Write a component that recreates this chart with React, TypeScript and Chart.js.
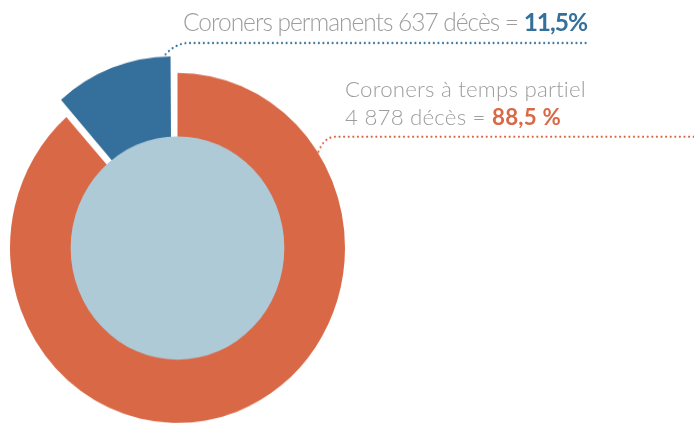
import React, { useEffect, useRef } from "react";
import { Chart, registerables } from "chart.js";

Chart.register(...registerables);

const categories = ["Coroners à temps partiel", "Coroners permanents"];
const deaths = [4878, 637];
const percentLabels = ["88,5 %", "11,5%"];
const colors = ["#d96846", "#34709b"];
const innerColor = "#aecad7";
const greyText = "#9d9d9d";

const SY = 1.045;
const SHIFT = 17; // visual translation of the detached slice

export default function App() {
  const ref = useRef<HTMLCanvasElement | null>(null);

  useEffect(() => {
    document.body.style.margin = "0";
    const canvas = ref.current;
    if (!canvas) return;

    const overlay = {
      id: "overlay",
      beforeDatasetsDraw(chart: any) {
        // keep the detached slice's radius equal to the ring's radius
        const arcs = chart.getDatasetMeta(0).data as any[];
        arcs.forEach((a: any, i: number) => {
          if (i === 1 && !a.$fixed) {
            const circ = a.endAngle - a.startAngle;
            const fix = 1 - Math.sin(Math.min(Math.PI, circ));
            a.outerRadius = a.outerRadius - SHIFT * fix;
            a.$fixed = true;
          }
        });
      },
      afterDatasetsDraw(chart: any) {
        const meta = chart.getDatasetMeta(0);
        const arcs = meta.data as any[];
        const ctx = chart.ctx as CanvasRenderingContext2D;
        const a0 = arcs[0];
        const cx = a0.x;
        const cy = a0.y;
        const R = a0.outerRadius;
        ctx.save();
        ctx.beginPath();
        ctx.arc(cx, cy, R * 0.638, 0, Math.PI * 2);
        ctx.fillStyle = innerColor;
        ctx.fill();
        ctx.restore();

        const dotted = (pts: number[][], ctrl: number[], color: string) => {
          ctx.save();
          ctx.strokeStyle = color;
          ctx.lineWidth = 2.2;
          ctx.lineCap = "round";
          ctx.setLineDash([0, 4.6]);
          ctx.beginPath();
          ctx.moveTo(pts[0][0], pts[0][1]);
          ctx.quadraticCurveTo(ctrl[0], ctrl[1], pts[1][0], pts[1][1]);
          ctx.lineTo(pts[2][0], pts[2][1]);
          ctx.stroke();
          ctx.restore();
        };

        const b = arcs[1];
        const mid = (b.startAngle + b.endAngle) / 2;
        const bx = cx + Math.cos(mid) * SHIFT;
        const by = cy + Math.sin(mid) * SHIFT;
        const ba = b.endAngle - 0.035;
        const p0 = [bx + Math.cos(ba) * (R + 2), by + Math.sin(ba) * (R + 2)];
        const hy1 = 43 / SY;
        dotted([p0, [187, hy1], [590, hy1]], [175, hy1 + 1], colors[1]);

        const oa = (-33.2 * Math.PI) / 180;
        const q0 = [cx + Math.cos(oa) * (R + 1), cy + Math.sin(oa) * (R + 1)];
        const hy2 = 136.7 / SY;
        dotted([q0, [334, hy2], [694, hy2]], [324, hy2 + 1], colors[0]);
      },
    };

    const chart = new Chart(canvas, {
      type: "pie",
      data: {
        labels: categories,
        datasets: [
          {
            data: deaths,
            backgroundColor: colors,
            borderWidth: 0,
            offset: [0, SHIFT * 4],
            radius: 167.5,
            clip: false,
          } as any,
        ],
      },
      options: {
        responsive: false,
        animation: false,
        layout: { padding: { left: 0, right: 339, top: 69.8, bottom: 0.2 } },
        plugins: { legend: { display: false }, tooltip: { enabled: false } },
      } as any,
      plugins: [overlay],
    });
    return () => chart.destroy();
  }, []);

  const font = "Lato, 'Open Sans', sans-serif";
  return (
    <div style={{ position: "relative", width: 694, height: 423, overflow: "hidden", background: "#fff" }}>
      <div style={{ position: "absolute", left: 0, top: 0, transform: `scale(1, ${SY})`, transformOrigin: "0 0" }}>
        <canvas ref={ref} width={694} height={405} style={{ display: "block" }} />
      </div>
      <div
        style={{
          position: "absolute",
          left: 183,
          top: 10,
          fontFamily: font,
          fontSize: 24.5,
          letterSpacing: "-1px",
          lineHeight: 1,
          fontWeight: 300,
          color: greyText,
          whiteSpace: "nowrap",
        }}
      >
        {categories[1]} {deaths[1]} décès ={" "}
        <span style={{ fontWeight: 700, color: colors[1] }}>{percentLabels[1]}</span>
      </div>
      <div
        style={{
          position: "absolute",
          left: 345,
          top: 75,
          fontFamily: font,
          fontSize: 22.3,
          letterSpacing: "0.2px",
          lineHeight: "28px",
          fontWeight: 300,
          color: greyText,
          whiteSpace: "nowrap",
        }}
      >
        <div>{categories[0]}</div>
        <div>
          4 878 décès = <span style={{ fontWeight: 700, color: colors[0] }}>{percentLabels[0]}</span>
        </div>
      </div>
    </div>
  );
}
